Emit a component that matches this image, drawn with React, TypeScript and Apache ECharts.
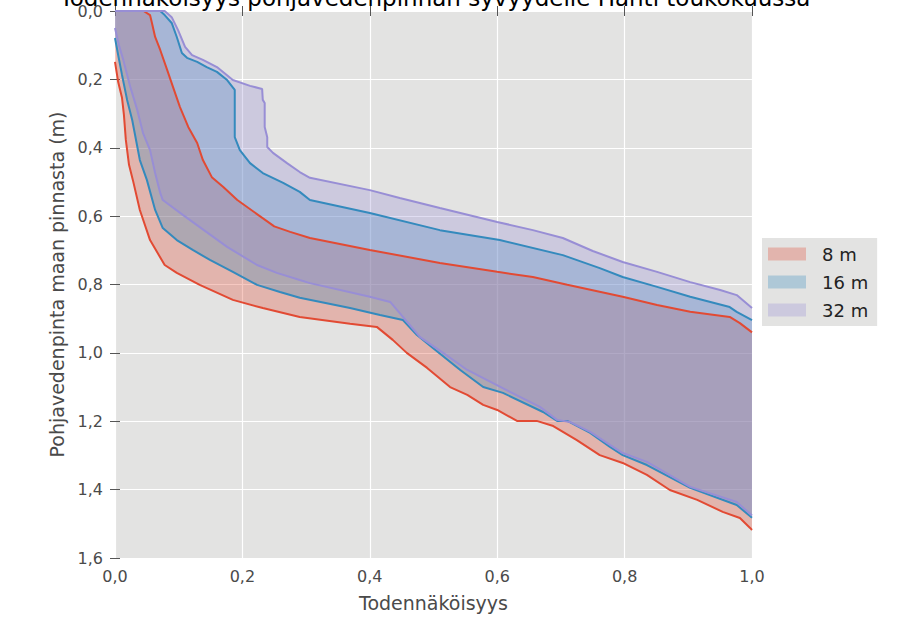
import React, { useEffect, useRef } from "react";
import * as echarts from "echarts";

const TITLE = "Todennäköisyys pohjavedenpinnan syvyydelle Hanti toukokuussa";
const X_NAME = "Todennäköisyys";
const Y_NAME = "Pohjavedenpinta maan pinnasta (m)";
const SERIES_NAMES = ["8 m", "16 m", "32 m"];
const X_TICK_LABELS = ["0,0", "0,2", "0,4", "0,6", "0,8", "1,0"];
const Y_TICK_LABELS = ["0,0", "0,2", "0,4", "0,6", "0,8", "1,0", "1,2", "1,4", "1,6"];

// 8 m band
const upper8: number[][] = [
  [0, 0], [0.045, 0], [0.055, 0.012], [0.058, 0.035], [0.063, 0.076], [0.071, 0.114],
  [0.082, 0.173], [0.091, 0.222], [0.102, 0.281], [0.115, 0.339], [0.129, 0.386],
  [0.138, 0.436], [0.152, 0.486], [0.17, 0.515], [0.192, 0.553], [0.25, 0.63],
  [0.275, 0.646], [0.306, 0.664], [0.4, 0.699], [0.51, 0.737], [0.6, 0.763],
  [0.656, 0.778], [0.71, 0.801], [0.797, 0.836], [0.851, 0.86], [0.903, 0.88],
  [0.965, 0.895], [0.981, 0.913], [1.0, 0.94],
];
const lower8: number[][] = [
  [0, 0.149], [0.005, 0.208], [0.011, 0.254], [0.014, 0.304], [0.017, 0.377],
  [0.022, 0.45], [0.028, 0.494], [0.039, 0.582], [0.055, 0.67], [0.078, 0.743],
  [0.097, 0.766], [0.133, 0.801], [0.185, 0.845], [0.232, 0.869], [0.29, 0.895],
  [0.369, 0.915], [0.411, 0.924], [0.436, 0.962], [0.458, 1.0], [0.49, 1.044],
  [0.526, 1.1], [0.553, 1.123], [0.578, 1.152], [0.6, 1.167], [0.631, 1.199],
  [0.662, 1.199], [0.688, 1.214], [0.725, 1.255], [0.761, 1.299], [0.797, 1.322],
  [0.835, 1.357], [0.871, 1.401], [0.914, 1.43], [0.954, 1.465], [0.981, 1.483],
  [0.997, 1.512], [1.0, 1.518],
];

// 16 m band
const upper16: number[][] = [
  [0, 0], [0.071, 0], [0.078, 0.012], [0.089, 0.035], [0.097, 0.076], [0.105, 0.123],
  [0.113, 0.137], [0.129, 0.149], [0.144, 0.164], [0.16, 0.178], [0.176, 0.202],
  [0.188, 0.231], [0.188, 0.369], [0.196, 0.407], [0.212, 0.445], [0.232, 0.474],
  [0.264, 0.503], [0.29, 0.529], [0.306, 0.553], [0.4, 0.591], [0.51, 0.641],
  [0.604, 0.67], [0.703, 0.714], [0.761, 0.752], [0.797, 0.778], [0.851, 0.807],
  [0.903, 0.836], [0.965, 0.866], [0.976, 0.88], [1.0, 0.904],
];
const lower16: number[][] = [
  [0, 0.079], [0.005, 0.129], [0.011, 0.187], [0.019, 0.26], [0.027, 0.319],
  [0.039, 0.436], [0.05, 0.494], [0.063, 0.582], [0.075, 0.635], [0.097, 0.67],
  [0.122, 0.699], [0.149, 0.728], [0.185, 0.763], [0.223, 0.801], [0.259, 0.822],
  [0.29, 0.839], [0.369, 0.869], [0.416, 0.889], [0.452, 0.904], [0.474, 0.948],
  [0.499, 0.986], [0.542, 1.05], [0.578, 1.1], [0.609, 1.117], [0.672, 1.173],
  [0.694, 1.199], [0.71, 1.199], [0.746, 1.234], [0.777, 1.275], [0.797, 1.299],
  [0.835, 1.328], [0.903, 1.395], [0.976, 1.445], [1.0, 1.482],
];

// 32 m band
const upper32: number[][] = [
  [0, 0], [0.078, 0], [0.089, 0.018], [0.099, 0.056], [0.11, 0.105], [0.121, 0.129],
  [0.138, 0.143], [0.16, 0.164], [0.185, 0.202], [0.212, 0.219], [0.231, 0.228],
  [0.232, 0.26], [0.235, 0.269], [0.235, 0.339], [0.239, 0.369], [0.239, 0.398],
  [0.248, 0.415], [0.27, 0.445], [0.29, 0.471], [0.306, 0.488], [0.4, 0.524],
  [0.447, 0.547], [0.51, 0.576], [0.6, 0.617], [0.656, 0.641], [0.703, 0.664],
  [0.75, 0.702], [0.797, 0.734], [0.851, 0.763], [0.903, 0.793], [0.95, 0.816],
  [0.976, 0.831], [1.0, 0.869],
];
const lower32: number[][] = [
  [0, 0.05], [0.006, 0.099], [0.013, 0.143], [0.024, 0.222], [0.035, 0.29],
  [0.044, 0.357], [0.055, 0.407], [0.063, 0.474], [0.071, 0.532], [0.075, 0.553],
  [0.107, 0.597], [0.133, 0.632], [0.176, 0.69], [0.223, 0.743], [0.254, 0.766],
  [0.29, 0.787], [0.306, 0.796], [0.4, 0.836], [0.432, 0.851], [0.452, 0.895],
  [0.479, 0.954], [0.515, 1.0], [0.553, 1.05], [0.62, 1.114], [0.667, 1.158],
  [0.694, 1.196], [0.714, 1.202], [0.746, 1.231], [0.777, 1.269], [0.797, 1.293],
  [0.835, 1.319], [0.903, 1.392], [0.976, 1.436], [1.0, 1.476],
];

const LINE_COLORS = ["#E24A33", "#348ABD", "#988ED5"];
const FILL_COLORS = ["rgba(226,74,51,0.3)", "rgba(52,138,189,0.3)", "rgba(152,142,213,0.3)"];
const BANDS = [
  { upper: upper8, lower: lower8 },
  { upper: upper16, lower: lower16 },
  { upper: upper32, lower: lower32 },
];

const FONT = "DejaVu Sans";

export default function App() {
  const ref = useRef<HTMLDivElement>(null);
  useEffect(() => {
    if (!ref.current) return;
    const chart = echarts.init(ref.current, undefined, { renderer: "svg" });

    const fillSeries = BANDS.map((b, i) => ({
      name: SERIES_NAMES[i],
      type: "custom",
      xAxisIndex: 0,
      yAxisIndex: 0,
      clip: true,
      z: 2 + i,
      data: b.upper,
      encode: { x: 0, y: 1 },
      renderItem: (params: any, api: any) => {
        if (params.dataIndex !== 0) return null;
        const pts = b.upper
          .map((p) => api.coord(p))
          .concat(b.lower.slice().reverse().map((p) => api.coord(p)));
        return {
          type: "polygon",
          shape: { points: pts },
          style: { fill: FILL_COLORS[i], stroke: "none" },
        };
      },
    }));

    const lineSeries: any[] = [];
    BANDS.forEach((b, i) => {
      [b.upper, b.lower].forEach((curve, k) => {
        lineSeries.push({
          name: SERIES_NAMES[i] + (k === 0 ? " upper" : " lower"),
          type: "line",
          xAxisIndex: 0,
          yAxisIndex: 0,
          data: curve,
          showSymbol: false,
          symbol: "none",
          z: 10 + i,
          lineStyle: { color: LINE_COLORS[i], width: 2 },
          itemStyle: { color: LINE_COLORS[i] },
        });
      });
    });

    const tickStyle = { show: true, length: 5, lineStyle: { color: "#555555", width: 1 } };

    chart.setOption({
      animation: false,
      textStyle: { fontFamily: FONT },
      grid: {
        left: 115,
        top: 11,
        width: 637,
        height: 547,
        show: true,
        backgroundColor: "#E3E3E2",
        borderWidth: 0,
      },
      graphic: [
        {
          type: "text",
          x: 435,
          y: -2,
          style: {
            text: TITLE,
            fontFamily: FONT,
            fontSize: 23,
            fill: "#000000",
            align: "center",
            verticalAlign: "middle",
          },
        },
      ],
      legend: {
        orient: "vertical",
        left: 762,
        top: 238,
        padding: [6, 9, 6, 6],
        backgroundColor: "#E3E3E2",
        itemWidth: 38,
        itemHeight: 13,
        itemGap: 8,
        textStyle: {
          fontFamily: FONT,
          fontSize: 18,
          color: "#222222",
          lineHeight: 20,
          padding: [0, 0, 0, 11],
        },
        data: SERIES_NAMES.map((n, i) => ({
          name: n,
          icon: "rect",
          itemStyle: { color: FILL_COLORS[i], borderWidth: 0 },
        })),
        selectedMode: false,
      },
      xAxis: [
        {
          type: "value",
          min: 0,
          max: 1,
          interval: 0.2,
          position: "bottom",
          name: X_NAME,
          nameLocation: "middle",
          nameGap: 35,
          nameTextStyle: { fontFamily: FONT, fontSize: 19, color: "#4a4a4a" },
          axisLine: { show: false },
          axisTick: tickStyle,
          axisLabel: {
            fontFamily: FONT,
            fontSize: 16,
            color: "#4a4a4a",
            margin: 10,
            formatter: (v: number) => X_TICK_LABELS[Math.round(v / 0.2)],
          },
          splitLine: { show: true, lineStyle: { color: "#FFFFFF", width: 1.2 } },
        },
        {
          type: "value",
          min: 0,
          max: 1,
          interval: 0.2,
          position: "top",
          axisLine: { show: false },
          axisTick: tickStyle,
          axisLabel: { show: false },
          splitLine: { show: false },
        },
      ],
      yAxis: [
        {
          type: "value",
          inverse: true,
          min: 0,
          max: 1.6,
          interval: 0.2,
          position: "left",
          name: Y_NAME,
          nameLocation: "middle",
          nameGap: 46,
          nameTextStyle: { fontFamily: FONT, fontSize: 19, color: "#4a4a4a" },
          axisLine: { show: false },
          axisTick: tickStyle,
          axisLabel: {
            fontFamily: FONT,
            fontSize: 16,
            color: "#4a4a4a",
            margin: 12,
            formatter: (v: number) => Y_TICK_LABELS[Math.round(v / 0.2)],
          },
          splitLine: { show: true, lineStyle: { color: "#FFFFFF", width: 1.2 } },
        },
        {
          type: "value",
          inverse: true,
          min: 0,
          max: 1.6,
          interval: 0.2,
          position: "right",
          axisLine: { show: false },
          axisTick: tickStyle,
          axisLabel: { show: false },
          splitLine: { show: false },
        },
      ],
      series: [...fillSeries, ...lineSeries],
    });

    return () => chart.dispose();
  }, []);

  return (
    <div
      ref={ref}
      style={{ position: "fixed", left: 0, top: 0, width: 914, height: 627, background: "#ffffff" }}
    />
  );
}
